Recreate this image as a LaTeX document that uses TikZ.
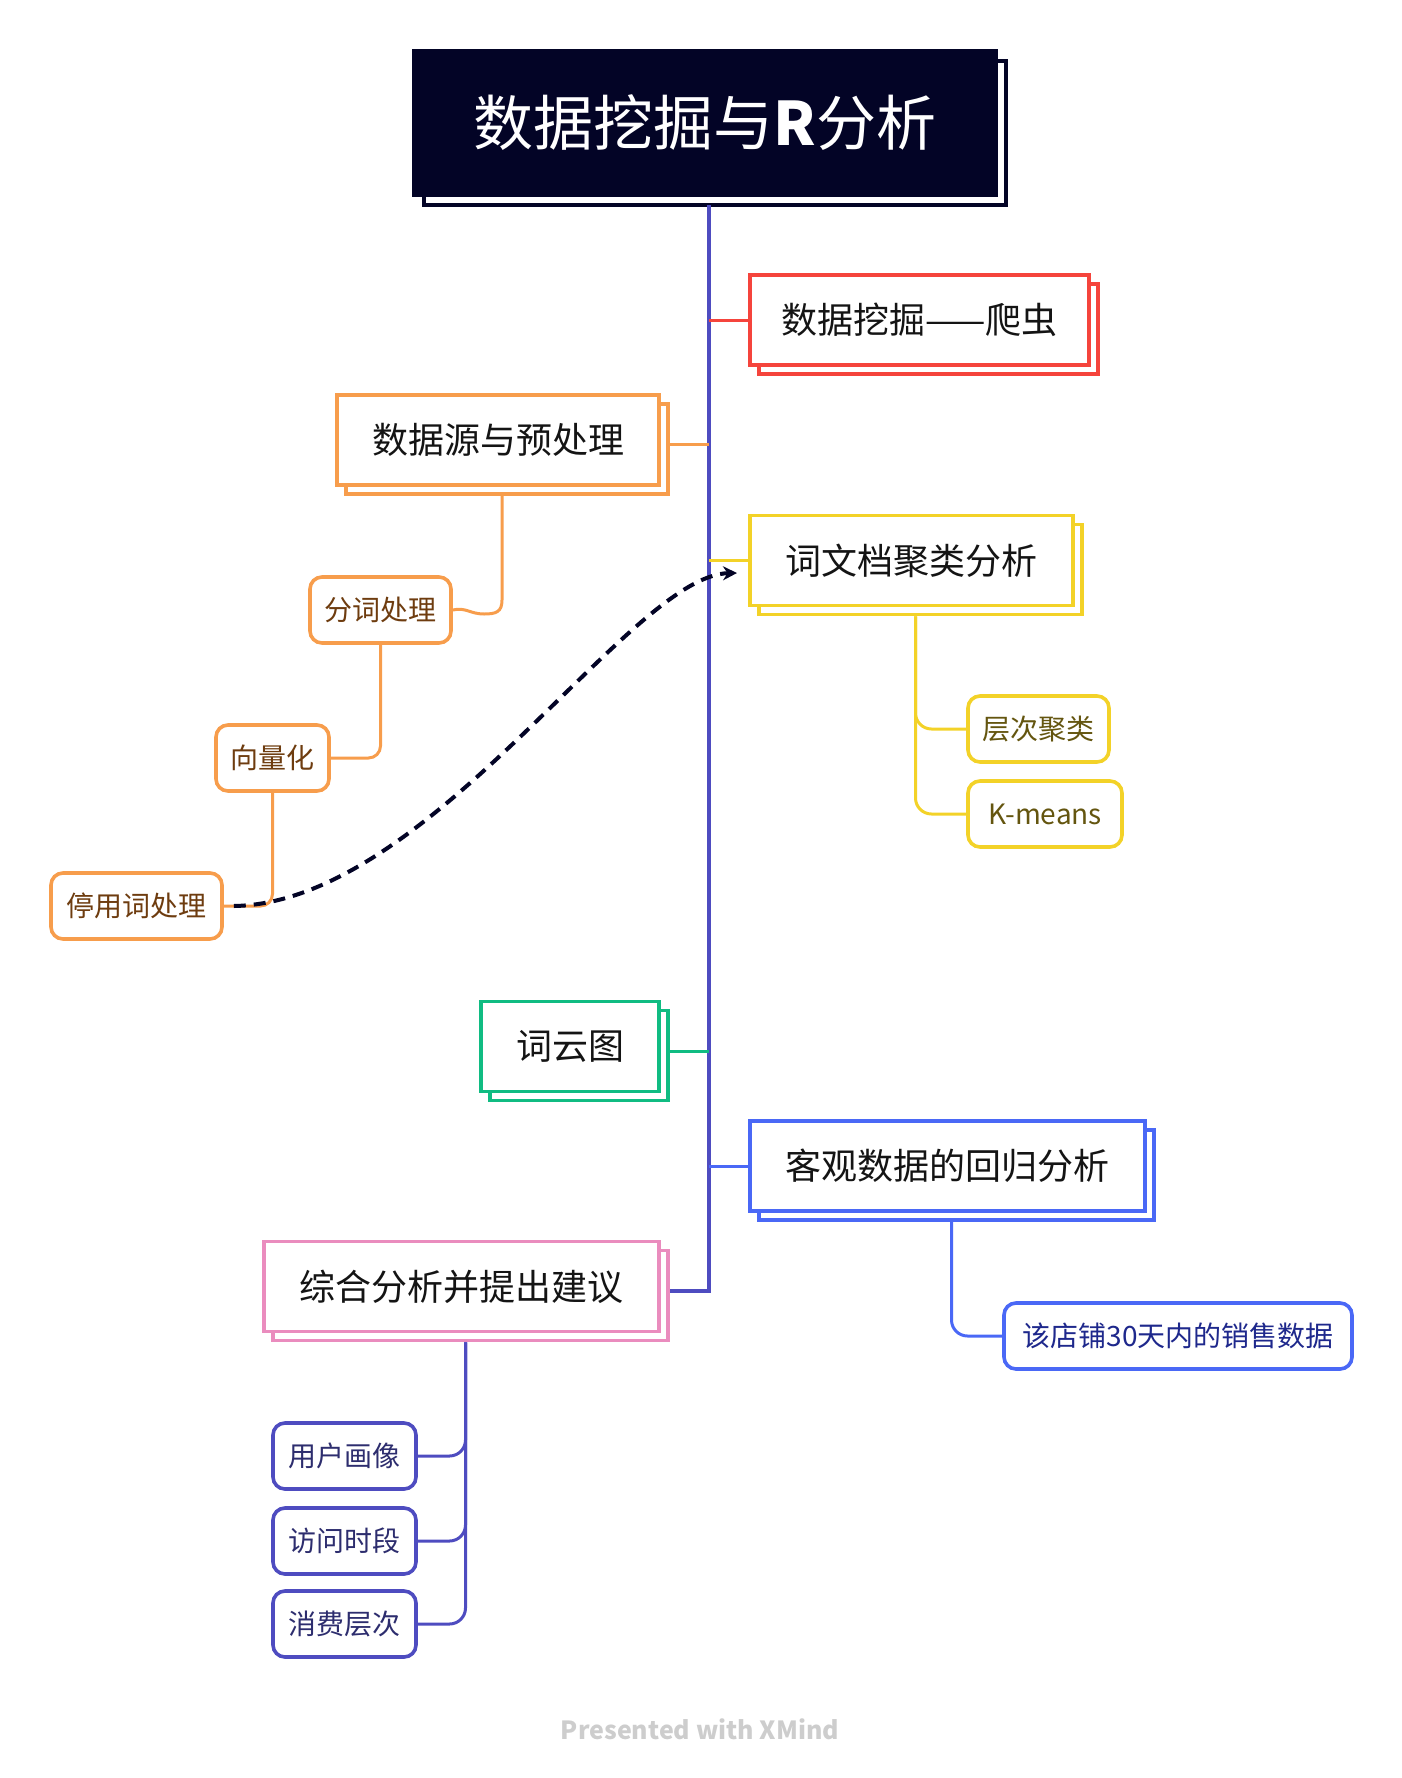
\documentclass[tikz,border=0pt]{standalone}
\usepackage{fontspec}
\setmainfont{Noto Sans CJK SC}
\usetikzlibrary{arrows.meta}
\definecolor{redc}{RGB}{245,68,60}
\definecolor{orangec}{RGB}{247,157,76}
\definecolor{yellowc}{RGB}{243,210,40}
\definecolor{greenc}{RGB}{16,188,130}
\definecolor{bluec}{RGB}{74,104,246}
\definecolor{pinkc}{RGB}{234,140,190}
\definecolor{trunkc}{RGB}{78,76,192}
\definecolor{navyc}{RGB}{3,4,38}
\definecolor{brownc}{RGB}{110,60,15}
\definecolor{olivec}{RGB}{100,85,15}
\definecolor{shoptext}{RGB}{30,40,140}
\definecolor{purpletext}{RGB}{45,45,110}
\definecolor{maintext}{RGB}{20,20,20}
\definecolor{graytext}{RGB}{205,205,205}
\begin{document}
\begin{tikzpicture}[x=0.5pt,y=-0.5pt,
  mainbox/.style={draw=#1, line width=1.8pt, fill=white, minimum height=45pt, inner sep=0pt,
    font=\fontsize{18}{22}\selectfont, text=maintext,
    preaction={draw=#1, fill=white, line width=1.8pt, transform canvas={shift={(4.5pt,-4.5pt)}}}},
  titlebox/.style={draw=navyc, fill=navyc, line width=1.8pt, text=white, minimum width=291pt,
    minimum height=72pt, inner sep=0pt, font=\fontsize{30}{36}\selectfont,
    preaction={draw=navyc, fill=white, line width=1.8pt, transform canvas={shift={(5pt,-5pt)}}}},
  childbox/.style={draw=#1, line width=1.8pt, rounded corners=6pt, fill=white, minimum height=33pt,
    inner sep=0pt, font=\fontsize{14}{17}\selectfont},
  conn/.style={draw=#1, line width=1.5pt},
  dashconn/.style={draw=navyc, line width=2pt, dash pattern=on 6pt off 4pt,
    -{Stealth[length=7pt,width=7pt]}}
]
\useasboundingbox (0,0) rectangle (1402,1778);

% title
\node[titlebox] (title) at (705,123) {数据挖掘与\textbf{R}分析};

% main topics
\node[mainbox=redc, minimum width=169.5pt] (crawl) at (919.5,320) {数据挖掘——爬虫};
\node[mainbox=orangec, minimum width=161pt] (src) at (498,440) {数据源与预处理};
\node[mainbox=yellowc, minimum width=161.5pt] (clus) at (911.5,560.5) {词文档聚类分析};
\node[mainbox=greenc, minimum width=89pt] (cloud) at (570,1046.5) {词云图};
\node[mainbox=bluec, minimum width=197.5pt] (reg) at (947.5,1166) {客观数据的回归分析};
\node[mainbox=pinkc, minimum width=197.5pt] (sugg) at (461.5,1286.5) {综合分析并提出建议};

% subtopics
\node[childbox=orangec, text=brownc, minimum width=70.5pt] (fen) at (380.5,610) {分词处理};
\node[childbox=orangec, text=brownc, minimum width=56.5pt] (vec) at (272.5,758) {向量化};
\node[childbox=orangec, text=brownc, minimum width=85.5pt] (stop) at (136.5,906) {停用词处理};
\node[childbox=yellowc, text=olivec, minimum width=70.5pt] (ceng) at (1038.5,729) {层次聚类};
\node[childbox=yellowc, text=olivec, minimum width=77pt] (km) at (1045,814) {K-means};
\node[childbox=bluec, text=shoptext, minimum width=174pt] (shop) at (1178,1336) {该店铺30天内的销售数据};
\node[childbox=trunkc, text=purpletext, minimum width=71.5pt] (user) at (344.5,1456) {用户画像};
\node[childbox=trunkc, text=purpletext, minimum width=71.5pt] (visit) at (344.5,1541) {访问时段};
\node[childbox=trunkc, text=purpletext, minimum width=71.5pt] (spend) at (344.5,1624) {消费层次};

% trunk
\coordinate (ttop) at (709,205);
\coordinate (tbot) at (709,1291);
\coordinate (suggR) at ([shift={(4.5pt,-2.25pt)}]sugg.east);
\draw[conn=trunkc, line width=1.7pt] (ttop) -- (tbot) -- (suggR);

% main connectors
\coordinate (srcR) at ([shift={(4.5pt,-2.25pt)}]src.east);
\coordinate (cloudR) at ([shift={(4.5pt,-2.25pt)}]cloud.east);
\draw[conn=redc] (crawl.west -| ttop) -- (crawl.west);
\draw[conn=orangec] (srcR) -- (srcR -| ttop);
\draw[conn=yellowc] (clus.west -| ttop) -- (clus.west);
\draw[conn=greenc] (cloudR) -- (cloudR -| ttop);
\draw[conn=bluec] (reg.west -| ttop) -- (reg.west);

% sub connectors
\coordinate (srcB) at ([shift={(2pt,-4.5pt)}]src.south);
\draw[conn=orangec] (srcB) -- (502,600) .. controls (502,612) and (496,614) .. (484,614)
  .. controls (470,614) and (466,607) .. (fen.east);
\draw[conn=orangec, rounded corners=6pt] (fen.south) |- (vec.east);
\draw[conn=orangec, rounded corners=6pt] (vec.south) |- (stop.east);

\coordinate (clusB) at ([shift={(2pt,-4.5pt)}]clus.south);
\draw[conn=yellowc, rounded corners=8pt] (clusB) |- (ceng.west);
\draw[conn=yellowc, rounded corners=8pt] (clusB) |- (km.west);

\coordinate (regB) at ([shift={(2pt,-4.5pt)}]reg.south);
\draw[conn=bluec, rounded corners=8pt] (regB) |- (shop.west);

\coordinate (suggB) at ([shift={(2pt,-4.5pt)}]sugg.south);
\draw[conn=trunkc, rounded corners=8pt] (suggB) |- (user.east);
\draw[conn=trunkc, rounded corners=8pt] (suggB) |- (visit.east);
\draw[conn=trunkc, rounded corners=8pt] (suggB) |- (spend.east);

% dashed relation
\coordinate (arrowtip) at (737,573);
\draw[dashconn] ([xshift=5pt]stop.east) .. controls (430,903) and (630,575) .. (arrowtip);

% footer
\node[font=\bfseries\fontsize{12.5}{15}\selectfont, text=graytext] (credit) at (700,1729) {Presented with XMind};
\end{tikzpicture}
\end{document}
